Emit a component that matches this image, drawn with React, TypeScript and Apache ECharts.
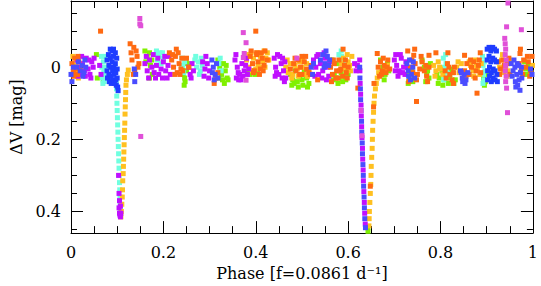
import React, { useEffect, useRef } from "react";
import * as echarts from "echarts";

// Phase axis ticks / magnitude ticks
const yMajorTicks = [0, 0.2, 0.4];
const yMinorTicks = [-0.15, -0.1, -0.05, 0.05, 0.1, 0.15, 0.25, 0.3, 0.35, 0.45];

// [phase, ΔV] points per colour group
const orangePts = [
  [0.002, -0.01], [0.005, 0.012], [0.008, -0.025], [0.011, 0.005], [0.014, 0.02], [0.017, -0.015], [0.02, 0.008],
  [0.006, 0.025], [0.015, -0.03],
  [0.064, -0.1],
  [0.128, -0.065], [0.136, -0.055], [0.141, -0.045], [0.143, -0.03], [0.132, -0.02], [0.147, -0.01], [0.135, 0.02], [0.138, 0.01],
  [0.13, -0.04], [0.145, 0.0],
  [0.213, -0.04], [0.218, -0.02], [0.222, 0.0], [0.226, -0.03], [0.23, 0.015], [0.234, -0.01], [0.238, 0.005], [0.228, -0.05], [0.236, 0.02], [0.24, -0.025],
  [0.22, -0.035], [0.232, -0.04], [0.225, 0.02], [0.242, 0.01],
  [0.25, -0.025], [0.255, 0.0],
  [0.313, 0.03], [0.318, 0.015], [0.31, 0.045],
  [0.4, -0.1], [0.402, -0.04],
  [0.388, -0.03], [0.393, -0.01], [0.397, 0.01], [0.402, -0.035], [0.405, -0.015], [0.41, 0.005], [0.414, -0.025], [0.418, -0.005], [0.42, -0.045], [0.408, 0.02], [0.395, 0.015],
  [0.39, -0.045], [0.412, -0.04], [0.416, 0.01], [0.425, -0.02],
  [0.475, 0.005],
  [0.482, -0.01], [0.487, 0.01], [0.492, -0.02], [0.497, 0.0], [0.5, 0.02], [0.505, -0.015], [0.51, 0.005], [0.515, 0.015], [0.52, -0.005], [0.5, -0.03],
  [0.485, -0.025], [0.495, 0.02], [0.508, -0.03], [0.518, 0.02],
  [0.534, 0.035],
  [0.562, 0.0], [0.566, 0.02], [0.57, -0.01], [0.575, 0.01], [0.58, -0.02], [0.584, 0.005], [0.588, 0.025], [0.592, -0.005], [0.596, 0.015], [0.6, 0.0], [0.578, 0.03],
  [0.568, -0.02], [0.573, 0.03], [0.582, 0.01], [0.594, -0.02], [0.598, 0.03],
  [0.589, -0.05], [0.564, 0.04], [0.621, 0.058],
  [0.648, 0.33], [0.656, 0.045], [0.655, 0.11],
  [0.665, 0.0], [0.67, -0.015], [0.674, 0.01], [0.678, -0.005], [0.682, 0.015], [0.686, -0.02], [0.69, 0.005], [0.672, 0.02],
  [0.668, 0.025], [0.676, -0.025], [0.684, 0.0],
  [0.663, -0.038], [0.729, -0.045], [0.744, -0.05], [0.742, -0.033], [0.748, 0.095], [0.731, 0.04], [0.775, -0.033], [0.79, -0.04],
  [0.816, -0.04], [0.828, 0.045], [0.852, -0.033], [0.879, 0.072], [0.886, -0.04], [0.972, -0.038], [0.973, -0.05],
  [0.735, 0.0], [0.74, 0.015], [0.745, -0.01], [0.75, 0.02], [0.755, 0.005], [0.76, -0.015], [0.765, 0.01], [0.77, 0.025], [0.775, 0.0],
  [0.738, -0.02], [0.748, 0.035], [0.758, -0.03], [0.768, -0.005], [0.772, 0.04],
  [0.81, 0.01], [0.815, -0.01], [0.82, 0.02], [0.825, 0.035], [0.83, 0.0],
  [0.812, 0.03], [0.818, 0.0], [0.828, 0.015],
  [0.852, 0.01], [0.857, -0.01], [0.862, 0.02], [0.867, 0.0], [0.872, -0.015], [0.877, 0.01], [0.882, -0.005], [0.887, 0.015],
  [0.855, 0.025], [0.865, -0.02], [0.875, 0.03], [0.884, -0.02],
  [0.925, -0.015], [0.93, 0.005], [0.935, -0.02], [0.94, 0.01], [0.945, -0.01], [0.95, 0.02],
  [0.928, 0.02], [0.938, -0.005], [0.948, -0.025],
  [0.97, -0.01], [0.975, 0.005], [0.98, -0.02], [0.985, 0.0], [0.99, -0.015], [0.995, 0.01], [0.998, -0.03],
  [0.978, 0.02], [0.988, -0.03], [0.993, 0.025],
];

const goldPts = [
  [0.003, 0.02], [0.007, 0.005], [0.012, 0.015], [0.016, 0.03], [0.004, -0.03], [0.01, -0.01], [0.018, 0.0],
  [0.108, 0.415], [0.109, 0.4], [0.11, 0.38], [0.111, 0.36], [0.1115, 0.34], [0.112, 0.315], [0.113, 0.295], [0.1135, 0.275],
  [0.114, 0.255], [0.1145, 0.235], [0.115, 0.215], [0.1155, 0.195], [0.116, 0.175], [0.1165, 0.155], [0.117, 0.13], [0.1175, 0.11],
  [0.118, 0.09], [0.1185, 0.07], [0.119, 0.05], [0.12, 0.035], [0.122, 0.02], [0.124, 0.008],
  [0.38, -0.02], [0.385, 0.0], [0.39, -0.04], [0.395, -0.025], [0.4, 0.005], [0.405, -0.005], [0.41, -0.03], [0.415, -0.015], [0.42, 0.0], [0.425, -0.04], [0.428, -0.02],
  [0.383, -0.035], [0.392, 0.01], [0.403, -0.04], [0.412, 0.0], [0.418, -0.045], [0.422, -0.025],
  [0.465, 0.0], [0.47, 0.015], [0.475, -0.01], [0.48, 0.02], [0.49, 0.005], [0.495, -0.015], [0.5, 0.0], [0.505, 0.02], [0.51, -0.01], [0.515, 0.01],
  [0.468, -0.02], [0.478, 0.03], [0.485, -0.005], [0.492, 0.025], [0.502, -0.02], [0.512, 0.025],
  [0.585, -0.01], [0.59, -0.025], [0.595, 0.0], [0.6, -0.015], [0.605, 0.01], [0.608, -0.03],
  [0.588, 0.005], [0.598, -0.035], [0.603, -0.005],
  [0.645, 0.44], [0.6455, 0.42], [0.646, 0.4], [0.647, 0.375], [0.648, 0.35], [0.649, 0.325], [0.6495, 0.3], [0.65, 0.275],
  [0.651, 0.25], [0.652, 0.225], [0.6525, 0.2], [0.653, 0.175], [0.654, 0.15], [0.655, 0.125], [0.656, 0.1], [0.657, 0.08],
  [0.659, 0.06], [0.661, 0.045], [0.663, 0.03], [0.666, 0.015],
  [0.68, 0.01], [0.685, -0.005],
  [0.785, -0.005], [0.79, 0.01], [0.795, -0.015], [0.8, 0.005], [0.805, 0.02], [0.788, 0.025], [0.798, 0.0],
  [0.835, 0.0], [0.84, 0.015], [0.845, -0.01], [0.86, 0.02], [0.865, -0.005], [0.87, 0.01], [0.875, -0.02], [0.88, 0.005], [0.885, 0.02], [0.888, -0.01],
  [0.838, -0.015], [0.862, -0.015], [0.872, 0.025], [0.878, -0.005],
  [0.928, 0.0], [0.932, -0.02], [0.936, 0.015], [0.941, -0.005], [0.946, 0.01], [0.95, -0.02], [0.934, -0.035], [0.944, 0.025],
  [0.996, 0.015], [0.999, -0.005],
];

const greenPts = [
  [0.055, -0.035], [0.057, 0.03], [0.07, 0.035],
  [0.16, -0.045], [0.165, -0.03], [0.17, -0.04], [0.175, -0.02], [0.176, 0.02], [0.17, 0.03], [0.162, -0.015], [0.172, -0.005],
  [0.24, 0.0], [0.243, 0.02], [0.247, 0.04], [0.25, 0.01], [0.252, -0.01], [0.246, 0.03], [0.245, 0.05], [0.249, -0.02],
  [0.318, -0.02], [0.322, 0.0], [0.326, 0.02], [0.33, -0.01], [0.334, 0.01], [0.338, 0.03], [0.328, 0.035], [0.34, 0.035],
  [0.32, 0.03], [0.332, 0.045], [0.336, -0.005],
  [0.382, 0.015], [0.387, 0.02], [0.392, 0.01], [0.398, 0.02], [0.404, 0.015],
  [0.475, 0.02], [0.48, 0.035], [0.486, 0.01], [0.49, 0.04], [0.495, 0.025], [0.5, 0.035], [0.505, 0.01], [0.51, 0.03], [0.515, 0.045], [0.518, 0.02], [0.483, 0.045],
  [0.478, 0.05], [0.492, 0.055], [0.502, 0.05], [0.512, 0.055],
  [0.565, -0.02], [0.57, 0.02], [0.575, -0.01], [0.58, 0.03], [0.585, 0.015], [0.59, 0.025], [0.595, 0.035], [0.6, 0.02],
  [0.568, 0.035], [0.578, 0.045], [0.588, 0.04], [0.598, 0.005],
  [0.643, 0.455], [0.6425, 0.445],
  [0.67, -0.02], [0.675, 0.0], [0.68, 0.02], [0.685, -0.01], [0.688, 0.01], [0.672, 0.015], [0.678, 0.035],
  [0.728, 0.02], [0.733, 0.035], [0.738, 0.01], [0.743, 0.03], [0.76, -0.02], [0.765, 0.0], [0.77, 0.02], [0.775, 0.03], [0.778, -0.01],
  [0.73, 0.045], [0.74, 0.04], [0.768, 0.04], [0.772, 0.01],
  [0.792, 0.02], [0.797, 0.03], [0.803, 0.01], [0.808, 0.035], [0.813, 0.02], [0.82, 0.03], [0.826, 0.015], [0.832, 0.035],
  [0.795, 0.045], [0.805, 0.05], [0.817, 0.045], [0.823, 0.005], [0.829, 0.045],
  [0.893, 0.03], [0.897, 0.04], [0.9, 0.02], [0.895, 0.05],
  [0.982, -0.015], [0.986, 0.005], [0.99, -0.005], [0.994, 0.01], [0.988, 0.02],
];

const cyanPts = [
  [0.066, -0.03], [0.067, 0.0], [0.068, 0.03], [0.07, -0.015], [0.071, 0.015], [0.072, 0.04], [0.074, -0.03], [0.075, 0.0], [0.075, 0.025],
  [0.069, 0.045], [0.073, 0.01],
  [0.098, 0.04], [0.0985, 0.06], [0.099, 0.08], [0.0995, 0.1], [0.1, 0.12], [0.1005, 0.14], [0.101, 0.16], [0.1015, 0.18], [0.102, 0.2],
  [0.1025, 0.22], [0.103, 0.24], [0.1035, 0.26], [0.104, 0.28], [0.1045, 0.3], [0.105, 0.32], [0.1055, 0.34], [0.106, 0.36], [0.1065, 0.38], [0.107, 0.395],
  [0.183, -0.035], [0.187, -0.02], [0.19, -0.03], [0.195, -0.01], [0.2, -0.025], [0.193, -0.04], [0.185, -0.045], [0.198, -0.04],
  [0.24, -0.025], [0.242, -0.005], [0.244, 0.015], [0.246, -0.015],
  [0.268, -0.02], [0.272, 0.0], [0.276, -0.015], [0.28, 0.01], [0.284, -0.005], [0.27, -0.03], [0.278, 0.02], [0.282, -0.025],
  [0.32, -0.01], [0.325, 0.01], [0.323, -0.025],
  [0.58, -0.035], [0.583, -0.02], [0.586, -0.03], [0.589, -0.01], [0.585, -0.045],
  [0.806, -0.025], [0.808, 0.0], [0.81, 0.025], [0.812, -0.01], [0.814, 0.015], [0.807, 0.035], [0.811, -0.035],
  [0.891, -0.03], [0.892, -0.005], [0.893, 0.02], [0.894, 0.035], [0.895, -0.015], [0.896, 0.01], [0.892, 0.045],
];

const purplePts = [
  [0.013, -0.02], [0.017, 0.0], [0.021, 0.02], [0.025, -0.01], [0.029, 0.01], [0.033, -0.025], [0.037, 0.005], [0.041, 0.02], [0.045, -0.015], [0.048, 0.0],
  [0.015, 0.025], [0.023, -0.03], [0.031, 0.025], [0.039, -0.02], [0.043, 0.03], [0.05, -0.025],
  [0.062, -0.005], [0.065, 0.02],
  [0.104, 0.39], [0.105, 0.405], [0.106, 0.41], [0.107, 0.415], [0.108, 0.405], [0.107, 0.385], [0.105, 0.37], [0.104, 0.35], [0.103, 0.3],
  [0.16, -0.01], [0.165, 0.01], [0.17, -0.02], [0.175, 0.0], [0.18, 0.015], [0.185, -0.005], [0.19, 0.02], [0.195, 0.005], [0.2, -0.015], [0.205, 0.01], [0.21, -0.005], [0.215, 0.02],
  [0.163, -0.03], [0.168, 0.03], [0.178, -0.035], [0.183, 0.03], [0.188, -0.025], [0.198, 0.03], [0.203, -0.03], [0.208, 0.03], [0.212, -0.03],
  [0.255, 0.0], [0.258, 0.02], [0.262, -0.01], [0.265, 0.01], [0.26, 0.03],
  [0.285, -0.015], [0.29, 0.005], [0.295, -0.01], [0.3, 0.01], [0.288, 0.025], [0.292, -0.03], [0.298, 0.03],
  [0.355, -0.02], [0.36, 0.0], [0.365, 0.02], [0.37, -0.01], [0.375, 0.01], [0.38, -0.025], [0.358, 0.03], [0.368, 0.035], [0.385, 0.005], [0.363, 0.035],
  [0.357, -0.035], [0.362, 0.015], [0.372, 0.025], [0.378, -0.005], [0.382, 0.02],
  [0.44, -0.025], [0.443, 0.0], [0.447, -0.035], [0.45, 0.02], [0.455, -0.01], [0.46, 0.01], [0.465, 0.03], [0.458, -0.025], [0.462, 0.04], [0.445, 0.015],
  [0.442, 0.025], [0.452, -0.03], [0.457, 0.03], [0.463, -0.015],
  [0.525, -0.02], [0.53, 0.0], [0.535, -0.035], [0.54, -0.01], [0.545, 0.01], [0.55, -0.025], [0.555, 0.0], [0.56, -0.015], [0.536, 0.02], [0.553, 0.035],
  [0.528, 0.025], [0.532, -0.03], [0.543, 0.03], [0.548, -0.04], [0.558, 0.025],
  [0.614, -0.01], [0.617, 0.01], [0.62, -0.005],
  [0.6255, 0.01], [0.626, 0.045], [0.627, 0.075], [0.628, 0.105], [0.6285, 0.135], [0.6292, 0.165], [0.63, 0.195], [0.631, 0.225],
  [0.6315, 0.255], [0.6325, 0.285], [0.633, 0.315], [0.634, 0.345], [0.635, 0.375], [0.6358, 0.405], [0.637, 0.435], [0.625, -0.02],
  [0.7, -0.02], [0.705, -0.005], [0.71, 0.01], [0.715, -0.025], [0.72, 0.0], [0.725, -0.015], [0.702, 0.01], [0.718, 0.015], [0.712, 0.015],
  [0.703, -0.035], [0.708, 0.025], [0.713, -0.035], [0.723, 0.02], [0.728, 0.0],
];

const bluePts = [
  [0.0, 0.02], [0.002, 0.04], [0.005, 0.0],
  [0.012, 0.0], [0.016, -0.015], [0.02, 0.01], [0.024, -0.005], [0.028, 0.015], [0.032, 0.0], [0.03, -0.02], [0.026, 0.025],
  [0.137, 0.005], [0.138, 0.04], [0.14, 0.02],
  [0.305, -0.02], [0.308, 0.0], [0.312, 0.02], [0.315, -0.01], [0.318, 0.03], [0.31, 0.035], [0.306, 0.015],
  [0.52, 0.0], [0.523, 0.02], [0.54, -0.02], [0.545, -0.035], [0.55, -0.01], [0.555, -0.03], [0.56, -0.02],
  [0.525, -0.01], [0.548, 0.0], [0.552, -0.045], [0.558, -0.005],
  [0.625, 0.0], [0.6255, 0.03], [0.6265, 0.06], [0.627, 0.09], [0.628, 0.12], [0.629, 0.15], [0.6295, 0.18], [0.6305, 0.21],
  [0.631, 0.24], [0.632, 0.27], [0.6328, 0.3], [0.6335, 0.33], [0.6345, 0.36], [0.6352, 0.39], [0.636, 0.42], [0.6375, 0.445],
  [0.727, -0.01], [0.73, 0.01], [0.733, -0.02], [0.737, 0.02], [0.74, 0.0], [0.744, 0.03], [0.735, 0.035], [0.731, 0.025], [0.741, -0.015],
  [0.843, 0.01], [0.847, 0.03], [0.851, 0.02], [0.855, 0.035], [0.859, 0.015], [0.848, 0.04], [0.845, 0.015], [0.853, 0.045],
  [0.953, -0.01], [0.957, 0.01], [0.961, 0.0], [0.965, 0.02], [0.969, -0.005], [0.973, 0.015], [0.962, 0.04], [0.967, 0.05], [0.976, 0.03],
  [0.955, 0.025], [0.959, -0.02], [0.966, -0.01], [0.97, 0.035], [0.975, 0.0],
  [0.963, 0.055], [0.972, 0.064],
  [0.995, 0.005], [0.998, 0.02],
];

const royalPts = [
  [0.078, -0.02], [0.078, 0.01], [0.079, 0.03], [0.081, -0.035], [0.082, -0.005], [0.082, 0.02], [0.083, 0.04], [0.085, -0.05],
  [0.085, -0.025], [0.086, 0.0], [0.086, 0.025], [0.087, 0.045], [0.089, -0.045], [0.089, -0.015], [0.09, 0.01], [0.09, 0.035],
  [0.092, -0.05], [0.092, -0.03], [0.093, 0.0], [0.093, 0.02], [0.094, 0.045], [0.096, -0.04], [0.096, -0.01], [0.097, 0.015],
  [0.097, 0.035], [0.098, 0.05], [0.099, -0.025], [0.1, 0.005], [0.1, 0.03], [0.101, 0.055], [0.102, 0.065],
  [0.901, -0.05], [0.901, -0.02], [0.902, 0.01], [0.902, 0.035], [0.905, -0.055], [0.905, -0.03], [0.906, 0.0], [0.906, 0.025],
  [0.909, -0.045], [0.909, -0.015], [0.91, 0.015], [0.91, 0.04], [0.913, -0.055], [0.913, -0.025], [0.914, 0.005], [0.914, 0.03],
  [0.917, -0.05], [0.917, -0.02], [0.918, 0.01], [0.918, 0.035], [0.921, -0.045], [0.921, -0.015], [0.922, 0.02], [0.923, 0.04],
];

const pinkPts = [
  [0.149, -0.135], [0.149, -0.12], [0.151, -0.115], [0.151, 0.192],
  [0.373, -0.096], [0.379, -0.068], [0.375, -0.038], [0.373, -0.027], [0.379, 0.036], [0.489, -0.025],
  [0.628, 0.12], [0.63, 0.19],
  [0.946, -0.178], [0.943, -0.112], [0.975, -0.104],
  [0.939, -0.08], [0.94, -0.065], [0.941, -0.05], [0.94, -0.035], [0.942, -0.02], [0.941, -0.005], [0.94, 0.01], [0.942, 0.025], [0.941, 0.04],
  [0.943, 0.058], [0.945, 0.126],
];

const FONT = "DejaVu Serif";
const Y_MIN = -0.1836;
const Y_MAX = 0.46;

export default function App() {
  const ref = useRef<HTMLDivElement>(null);
  useEffect(() => {
    if (!ref.current) return;
    const chart = echarts.init(ref.current, null, { renderer: "svg" });
    const line = { show: true, onZero: false, lineStyle: { color: "#000", width: 1 } };
    const mk = (data: number[][], color: string) => ({
      type: "scatter",
      data,
      symbol: "rect",
      symbolSize: 5,
      itemStyle: { color, opacity: 1 },
      silent: true,
    });
    const xBase = {
      type: "value",
      min: 0,
      max: 1,
      interval: 0.2,
      axisLine: line,
      splitLine: { show: false },
      axisTick: { show: true, inside: true, length: 12, lineStyle: { color: "#000" } },
      minorTick: { show: true, splitNumber: 4, length: 7, lineStyle: { color: "#000" } },
    };
    const yBase = {
      type: "value",
      min: Y_MIN,
      max: Y_MAX,
      inverse: true,
      splitLine: { show: false },
    };
    chart.setOption({
      animation: false,
      grid: { left: 67, right: 2, top: 1, bottom: 51 },
      xAxis: [
        {
          ...xBase,
          position: "bottom",
          name: "Phase [f=0.0861 d⁻¹]",
          nameLocation: "middle",
          nameGap: 31,
          nameTextStyle: { fontFamily: FONT, fontSize: 16, color: "#000" },
          axisLabel: { fontFamily: FONT, fontSize: 16, color: "#000", margin: 11 },
        },
        { ...xBase, position: "top", axisLabel: { show: false } },
      ],
      yAxis: [
        {
          ...yBase,
          position: "left",
          axisLine: line,
          name: "ΔV [mag]",
          nameLocation: "middle",
          nameRotate: 90,
          nameGap: 47,
          nameTextStyle: { fontFamily: FONT, fontSize: 16, color: "#000" },
          axisLabel: { customValues: yMajorTicks, fontFamily: FONT, fontSize: 16, color: "#000", margin: 10 },
          axisTick: { customValues: yMajorTicks, inside: true, length: 12, lineStyle: { color: "#000" } },
        },
        {
          ...yBase,
          position: "left",
          axisLine: { show: false, onZero: false },
          axisLabel: { show: false },
          axisTick: { customValues: yMinorTicks, inside: true, length: 6, lineStyle: { color: "#000" } },
        },
        {
          ...yBase,
          position: "right",
          axisLine: line,
          axisLabel: { show: false },
          axisTick: { customValues: yMajorTicks, inside: true, length: 12, lineStyle: { color: "#000" } },
        },
        {
          ...yBase,
          position: "right",
          axisLine: { show: false, onZero: false },
          axisLabel: { show: false },
          axisTick: { customValues: yMinorTicks, inside: true, length: 6, lineStyle: { color: "#000" } },
        },
      ],
      series: [
        mk(greenPts, "#80f000"),
        mk(cyanPts, "#70ffe0"),
        mk(goldPts, "#ffc020"),
        mk(purplePts, "#c010ff"),
        mk(orangePts, "#ff6a12"),
        mk(bluePts, "#4a4cff"),
        mk(royalPts, "#1e3cff"),
        mk(pinkPts, "#e050d8"),
      ],
    });
    return () => chart.dispose();
  }, []);
  return (
    <div
      ref={ref}
      style={{ position: "fixed", left: 0, top: 0, width: 541, height: 286, background: "#fff" }}
    />
  );
}
